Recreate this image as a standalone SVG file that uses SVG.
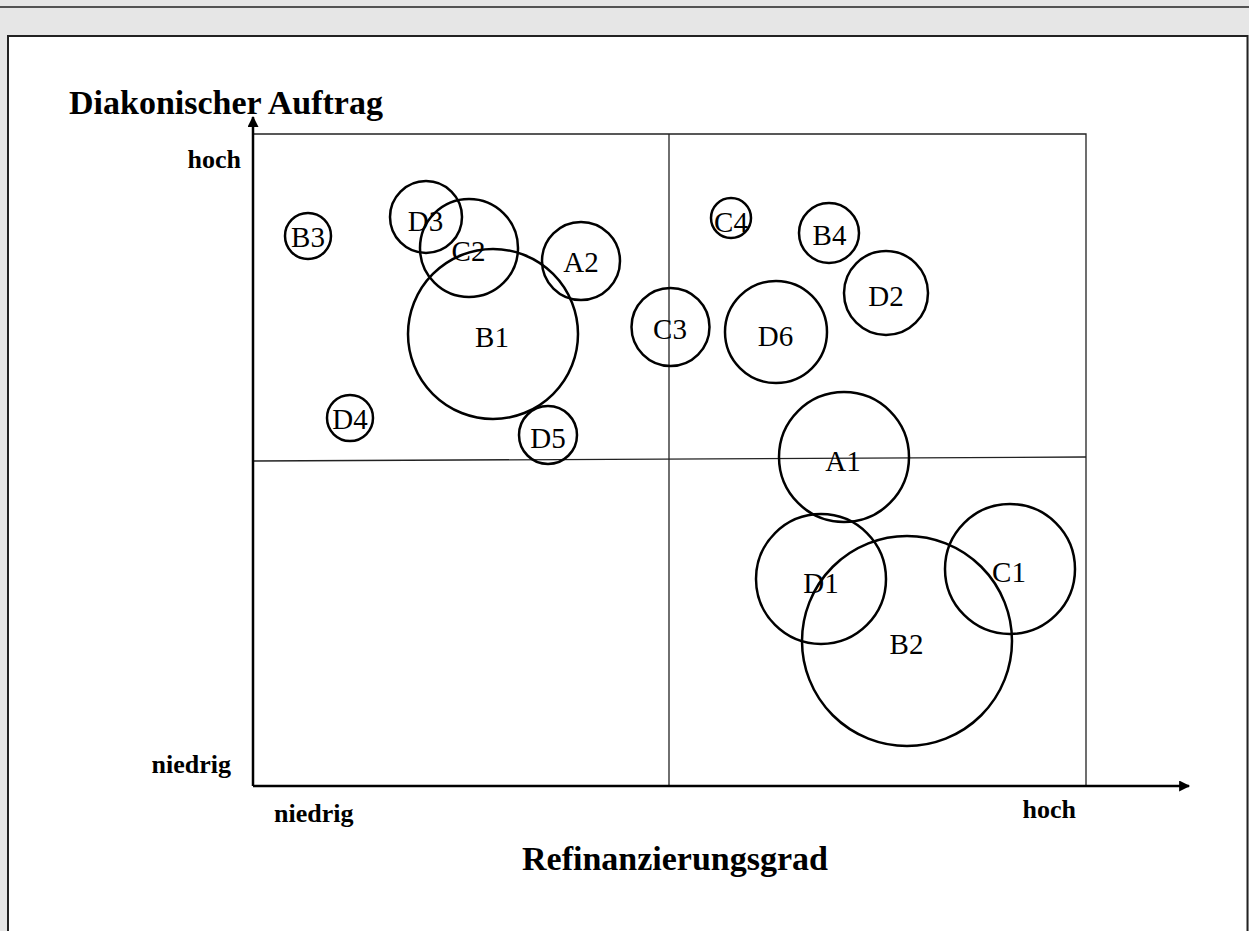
<svg xmlns="http://www.w3.org/2000/svg" width="1249" height="931" viewBox="0 0 1249 931">
<style>
.bub{fill:none;stroke:#000;stroke-width:2.5}
.lbl{font-family:"Liberation Serif","Times New Roman",serif;font-size:29px;fill:#000;text-anchor:middle}
.ax{font-family:"Liberation Serif","Times New Roman",serif;font-weight:bold;fill:#000}
.grid{stroke:#222;stroke-width:1.3;fill:none}
.axis{stroke:#000;stroke-width:2.5;fill:none}
</style>
<defs>
<marker id="arr" viewBox="0 0 10 10" refX="9" refY="5" markerWidth="12" markerHeight="11" markerUnits="userSpaceOnUse" orient="auto">
<path d="M0,0 L10,5 L0,10 z" fill="#000"/>
</marker>
</defs>
<rect x="0" y="0" width="1249" height="931" fill="#e6e6e6"/>
<line x1="0" y1="7" x2="1249" y2="7" stroke="#222" stroke-width="1.5"/>
<rect x="8" y="36" width="1239.5" height="900" fill="#fff" stroke="#222" stroke-width="2"/>
<g id="grid">
<polyline class="grid" points="253,134 1086,134 1086,786"/>
<line class="grid" x1="669" y1="134" x2="669" y2="786"/>
<line class="grid" x1="253" y1="461" x2="1086" y2="457"/>
</g>
<g id="connectors">
<line class="axis" x1="253" y1="786" x2="253" y2="117" marker-end="url(#arr)"/>
<line class="axis" x1="253" y1="786" x2="1189" y2="786" marker-end="url(#arr)"/>
</g>
<g id="labels">
<text class="ax" x="69" y="114" font-size="34">Diakonischer Auftrag</text>
<text class="ax" x="241" y="168" font-size="26" text-anchor="end">hoch</text>
<text class="ax" x="231" y="773" font-size="26" text-anchor="end">niedrig</text>
<text class="ax" x="274" y="822" font-size="26">niedrig</text>
<text class="ax" x="1076" y="818" font-size="26" text-anchor="end">hoch</text>
<text class="ax" x="675" y="870" font-size="34" text-anchor="middle">Refinanzierungsgrad</text>
</g>
<g id="B3"><circle class="bub" cx="308" cy="236" r="23"/><text class="lbl" x="308" y="247">B3</text></g>
<g id="D3"><circle class="bub" cx="426" cy="217" r="36"/><text class="lbl" x="425.5" y="231">D3</text></g>
<g id="C2"><circle class="bub" cx="469" cy="248" r="49"/><text class="lbl" x="468.5" y="261">C2</text></g>
<g id="A2"><circle class="bub" cx="581" cy="261" r="39"/><text class="lbl" x="581" y="272">A2</text></g>
<g id="B1"><circle class="bub" cx="493" cy="334" r="85"/><text class="lbl" x="492" y="347">B1</text></g>
<g id="D4"><circle class="bub" cx="350" cy="418" r="23"/><text class="lbl" x="350" y="429">D4</text></g>
<g id="D5"><circle class="bub" cx="548" cy="435" r="29"/><text class="lbl" x="548" y="448">D5</text></g>
<g id="C4"><circle class="bub" cx="731" cy="218" r="20"/><text class="lbl" x="731" y="232">C4</text></g>
<g id="B4"><circle class="bub" cx="829" cy="233" r="30"/><text class="lbl" x="829.5" y="245">B4</text></g>
<g id="D2"><circle class="bub" cx="886" cy="293" r="42"/><text class="lbl" x="886" y="306">D2</text></g>
<g id="C3"><circle class="bub" cx="670.5" cy="327" r="39"/><text class="lbl" x="670" y="339">C3</text></g>
<g id="D6"><circle class="bub" cx="776" cy="332" r="51"/><text class="lbl" x="775.5" y="346">D6</text></g>
<g id="A1"><circle class="bub" cx="844" cy="457" r="65"/><text class="lbl" x="843" y="471">A1</text></g>
<g id="D1"><circle class="bub" cx="821" cy="579" r="65"/><text class="lbl" x="821" y="593">D1</text></g>
<g id="C1"><circle class="bub" cx="1010" cy="569" r="65"/><text class="lbl" x="1009" y="582">C1</text></g>
<g id="B2"><circle class="bub" cx="907" cy="641" r="105"/><text class="lbl" x="906.5" y="654">B2</text></g>
</svg>
